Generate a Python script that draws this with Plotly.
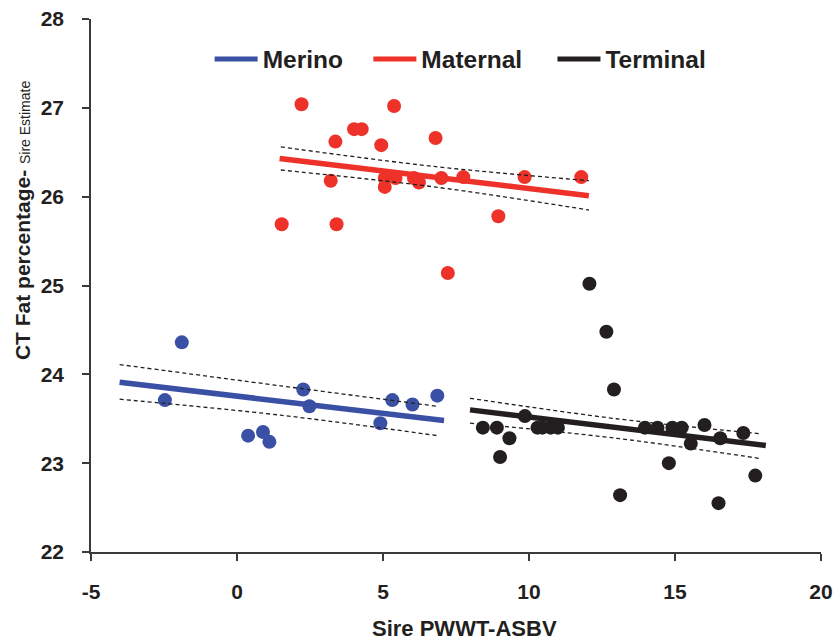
import plotly.graph_objects as go

# ---- data ----
merino_x = [-2.47, -1.89, 0.38, 0.89, 1.11, 2.27, 2.48, 4.91, 5.32, 6.01, 6.86]
merino_y = [23.71, 24.36, 23.31, 23.35, 23.24, 23.83, 23.64, 23.45, 23.71, 23.66, 23.76]

maternal_x = [1.53, 2.21, 3.21, 3.37, 3.41, 4.01, 4.27, 4.94, 5.06, 5.06, 5.38, 5.43,
              6.06, 6.23, 6.80, 7.00, 7.22, 7.75, 8.95, 9.85, 11.79]
maternal_y = [25.69, 27.04, 26.18, 26.62, 25.69, 26.76, 26.76, 26.58, 26.21, 26.11, 27.02, 26.21,
              26.21, 26.16, 26.66, 26.21, 25.14, 26.22, 25.78, 26.22, 26.22]

terminal_x = [8.42, 8.90, 9.01, 9.33, 9.86, 10.29, 10.46, 10.74, 10.99, 12.07, 12.65, 12.91,
              13.12, 13.97, 14.40, 14.79, 14.91, 15.23, 15.54, 16.01, 16.49, 16.55, 17.34, 17.75]
terminal_y = [23.40, 23.40, 23.07, 23.28, 23.53, 23.40, 23.40, 23.40, 23.40, 25.02, 24.48, 23.83,
              22.64, 23.40, 23.40, 23.00, 23.40, 23.40, 23.22, 23.43, 22.55, 23.28, 23.34, 22.86]

# fitted lines (start, end) and 95% bands (start, mid, end)
merino_fit_x = [-4.02, 7.09]
merino_fit_y = [23.91, 23.48]
merino_ci_x = [-4.02, 1.5, 6.86]
merino_ci_hi = [24.11, 23.87, 23.64]
merino_ci_lo = [23.72, 23.54, 23.31]

maternal_fit_x = [1.46, 12.05]
maternal_fit_y = [26.43, 26.01]
maternal_ci_x = [1.50, 6.75, 12.05]
maternal_ci_hi = [26.56, 26.34, 26.18]
maternal_ci_lo = [26.30, 26.11, 25.85]

terminal_fit_x = [7.98, 18.11]
terminal_fit_y = [23.60, 23.20]
terminal_ci_x = [7.98, 13.0, 17.96]
terminal_ci_hi = [23.73, 23.50, 23.33]
terminal_ci_lo = [23.45, 23.28, 23.05]

x_ticks = [-5, 0, 5, 10, 15, 20]
y_ticks = [22, 23, 24, 25, 26, 27, 28]

BLUE = "#3a50a4"
RED = "#ee3129"
BLACK = "#231f20"
FONT = "Liberation Sans, Arial, sans-serif"

groups = [
    ("Merino", BLUE, merino_x, merino_y, merino_fit_x, merino_fit_y, merino_ci_x, merino_ci_hi, merino_ci_lo),
    ("Maternal", RED, maternal_x, maternal_y, maternal_fit_x, maternal_fit_y, maternal_ci_x, maternal_ci_hi, maternal_ci_lo),
    ("Terminal", BLACK, terminal_x, terminal_y, terminal_fit_x, terminal_fit_y, terminal_ci_x, terminal_ci_hi, terminal_ci_lo),
]
label_pad = ["&nbsp;" * 3, "&nbsp;" * 3 + "&#8201;", ""]

fig = go.Figure()

for name, col, px_, py_, fx, fy, cx, chi, clo in groups:
    fig.add_trace(go.Scatter(x=px_, y=py_, mode="markers", showlegend=False,
                             marker=dict(size=14, color=col, line=dict(width=0))))
for i, (name, col, px_, py_, fx, fy, cx, chi, clo) in enumerate(groups):
    label = "<b>" + name + "</b>" + label_pad[i]
    fig.add_trace(go.Scatter(x=fx, y=fy, mode="lines", name=label,
                             line=dict(color=col, width=5.5)))
for name, col, px_, py_, fx, fy, cx, chi, clo in groups:
    for band in (chi, clo):
        fig.add_trace(go.Scatter(x=cx, y=band, mode="lines", showlegend=False,
                                 line=dict(color=BLACK, width=1.3, dash="4px,3px", shape="spline")))

axis_common = dict(
    showgrid=False, zeroline=False, showline=True, linecolor="#3a3a3a", linewidth=1.5,
    ticks="outside", ticklen=7, tickwidth=1.5, tickcolor="#3a3a3a", automargin=False,
    tickfont=dict(family=FONT, size=21, color=BLACK),
)

fig.update_xaxes(range=[-5, 20], tickvals=x_ticks, ticktext=["<b>%d</b>" % v for v in x_ticks],
                 ticklabelstandoff=13, **axis_common)
fig.update_yaxes(range=[22, 28], tickvals=y_ticks, ticktext=["<b>%d</b>" % v for v in y_ticks],
                 ticklabelstandoff=14, **axis_common)

fig.add_annotation(text="<b>Sire PWWT-ASBV</b>", xref="paper", yref="paper",
                   x=0.512, y=-0.1426, xanchor="center", yanchor="middle", showarrow=False,
                   font=dict(family=FONT, size=22, color=BLACK))
fig.add_annotation(text="<b>CT Fat percentage-</b> <span style='font-size:14px'>Sire Estimate</span>",
                   xref="paper", yref="paper", x=-0.093, y=0.623, xanchor="center", yanchor="middle",
                   textangle=-90, showarrow=False,
                   font=dict(family=FONT, size=21, color=BLACK))

fig.update_layout(
    width=836, height=641,
    margin=dict(l=91, r=15, t=19, b=89, autoexpand=False),
    paper_bgcolor="white", plot_bgcolor="white",
    showlegend=True,
    legend=dict(orientation="h", x=0.1625, y=0.925, xanchor="left", yanchor="middle",
                bgcolor="rgba(0,0,0,0)", itemwidth=43,
                font=dict(family=FONT, size=24.5, color=BLACK),
                itemsizing="constant"),
    font=dict(family=FONT, color=BLACK),
)

fig.write_html("out.html", config={"displayModeBar": False},
               post_script="document.body.style.margin='0px';")
